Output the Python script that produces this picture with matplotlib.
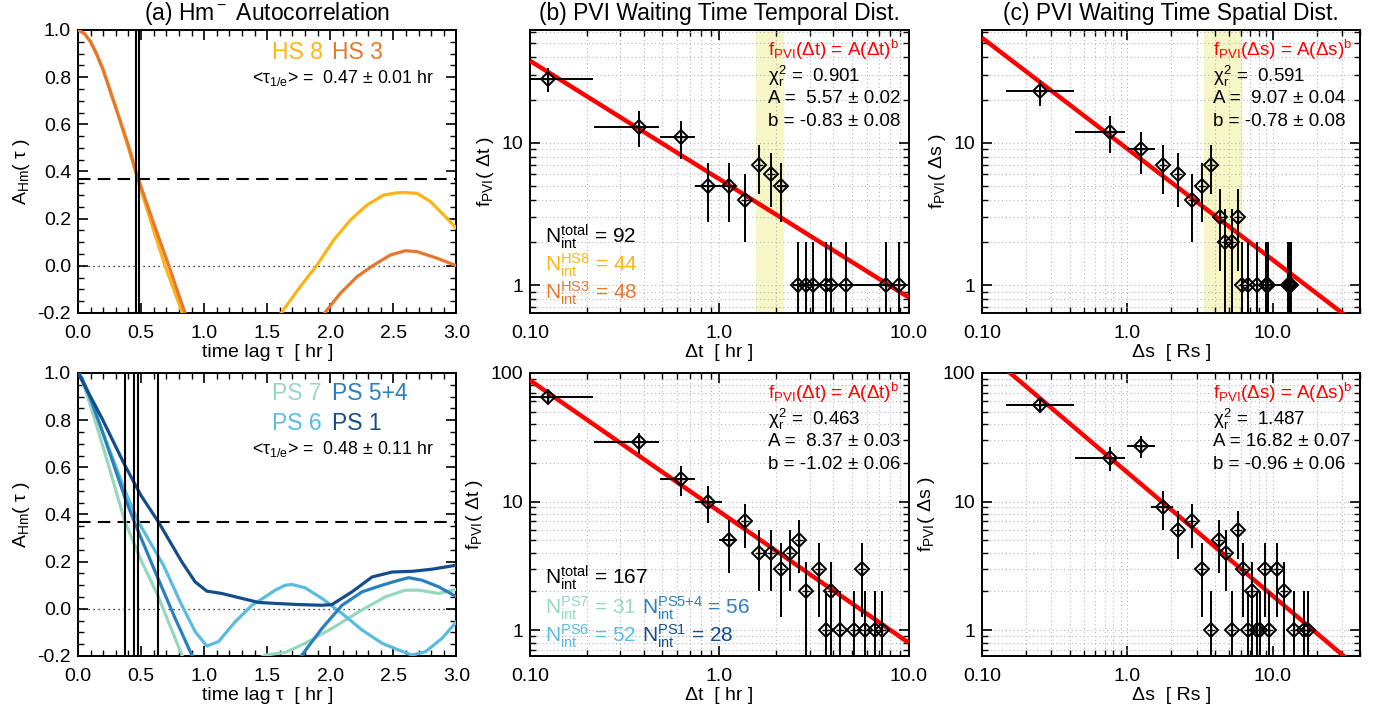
import numpy as np
import matplotlib
matplotlib.use("Agg")
import matplotlib.pyplot as plt
from matplotlib.ticker import FixedLocator, FixedFormatter, MultipleLocator, NullFormatter

plt.rcParams['font.family'] = ['Liberation Sans', 'DejaVu Sans']
plt.rcParams['mathtext.fontset'] = 'custom'
plt.rcParams['mathtext.rm'] = 'Liberation Sans'
plt.rcParams['mathtext.it'] = 'Liberation Sans:italic'
plt.rcParams['mathtext.bf'] = 'Liberation Sans:bold'
plt.rcParams['axes.linewidth'] = 1.4

nan = np.nan

# ---- (a) autocorrelation curves ----
hs8_tau = [0, 0.05, 0.1, 0.15, 0.2, 0.3, 0.4, 0.47, 0.5, 0.6, 0.69, 0.8, 0.9, nan,
           1.5, 1.608, 1.762, 1.894, 2.026, 2.159, 2.291, 2.423, 2.52, 2.582, 2.688, 2.794, 2.9, 3.0]
hs8_acf = [1.0, 0.985, 0.95, 0.895, 0.83, 0.67, 0.50, 0.375, 0.32, 0.15, 0.0, -0.16, -0.32, nan,
           -0.35, -0.202, -0.088, 0.003, 0.109, 0.194, 0.258, 0.3, 0.309, 0.311, 0.307, 0.272, 0.215, 0.159]
hs3_tau = [0, 0.05, 0.1, 0.15, 0.2, 0.3, 0.4, 0.47, 0.5, 0.6, 0.72, 0.8, 0.9, nan,
           1.85, 1.952, 2.079, 2.212, 2.344, 2.476, 2.595, 2.688, 2.847, 3.0]
hs3_acf = [1.0, 0.985, 0.95, 0.895, 0.83, 0.67, 0.51, 0.38, 0.335, 0.18, 0.0, -0.125, -0.28, nan,
           -0.3, -0.202, -0.117, -0.046, 0.003, 0.046, 0.064, 0.06, 0.032, 0.0]
hs_tau_e = [0.463, 0.484]

ps7_tau = [0, 0.03, 0.135, 0.241, 0.373, 0.505, 0.638, 0.823, 0.9, nan,
           1.3, 1.484, 1.643, 1.801, 2.013, 2.225, 2.437, 2.595, 2.701, 2.86, 3.0]
ps7_acf = [1.0, 0.975, 0.80, 0.61, 0.368, 0.20, 0.05, -0.196, -0.3, nan,
           -0.25, -0.196, -0.185, -0.146, -0.083, -0.013, 0.051, 0.079, 0.079, 0.065, 0.083]
ps6_tau = [0, 0.03, 0.1, 0.188, 0.373, 0.479, 0.677, 0.823, 0.929, 1.021, 1.114, 1.246, 1.378,
           1.484, 1.563, 1.643, 1.696, 1.801, 1.934, 2.093, 2.252, 2.41, 2.542, 2.648, 2.754, 2.886, 3.0]
ps6_acf = [1.0, 0.98, 0.89, 0.76, 0.50, 0.368, 0.185, 0.015, -0.097, -0.158, -0.139, -0.055, 0.015,
           0.051, 0.079, 0.1, 0.103, 0.089, 0.044, -0.02, -0.09, -0.146, -0.175, -0.196, -0.182, -0.125, -0.055]
ps54_tau = [0, 0.03, 0.1, 0.188, 0.373, 0.447, 0.624, 0.77, 0.902, 0.95, nan,
            1.7, 1.775, 1.934, 2.093, 2.252, 2.41, 2.542, 2.622, 2.728, 2.86, 3.0]
ps54_acf = [1.0, 0.98, 0.89, 0.76, 0.47, 0.368, 0.142, -0.04, -0.196, -0.26, nan,
            -0.28, -0.196, -0.083, 0.015, 0.072, 0.1, 0.121, 0.132, 0.121, 0.093, 0.051]
ps1_tau = [0, 0.188, 0.373, 0.5, 0.638, 0.823, 0.929, 1.021, 1.14, 1.30, 1.43, 1.56, 1.748, 1.934,
           2.013, 2.172, 2.331, 2.49, 2.65, 2.807, 3.0]
ps1_acf = [1.0, 0.81, 0.607, 0.48, 0.368, 0.199, 0.114, 0.075, 0.065, 0.044, 0.027, 0.023, 0.018, 0.015,
           0.018, 0.072, 0.135, 0.156, 0.159, 0.168, 0.185]
ps_tau_e = [0.373, 0.447, 0.479, 0.637]

# ---- (b) temporal waiting time, HS ----
bt_hs_x = [0.125, 0.378, 0.625, 0.871, 1.13, 1.37, 1.63, 1.87, 2.12,
           2.61, 2.87, 3.13, 3.66, 3.87, 4.65, 7.59, 8.89]
bt_hs_n = [28, 13, 11, 5, 5, 4, 7, 6, 5, 1, 1, 1, 1, 1, 1, 1, 1]
bt_hs_lo = [0.09, 0.218, 0.486, 0.747, 1.0, 1.37, 1.63, 1.87, 2.02,
            2.45, 2.61, 2.87, 3.13, 3.66, 3.87, 4.65, 7.59]
bt_hs_hi = [0.216, 0.483, 0.74, 1.0, 1.23, 1.37, 1.63, 1.87, 2.24,
            2.87, 3.13, 3.66, 3.87, 4.65, 7.59, 8.89, 9.0]
bt_hs_fit = (5.57, -0.83)
bt_hs_band = (1.556, 2.21)

# ---- (b) temporal waiting time, PS ----
bt_ps_x = [0.125, 0.378, 0.625, 0.871, 1.13, 1.37, 1.63, 1.87, 2.12, 2.36, 2.64,
           2.87, 3.36, 3.66, 3.87, 4.36, 5.12, 5.68, 5.90, 6.64, 7.20]
bt_ps_n = [65, 29, 15, 10, 5, 7, 4, 4, 3, 4, 5, 2, 3, 1, 2, 1, 1, 3, 1, 1, 1]
bt_ps_lo = [0.09, 0.218, 0.486, 0.747, 1.0] + bt_ps_x[5:]
bt_ps_hi = [0.216, 0.483, 0.74, 1.03, 1.23] + bt_ps_x[5:]
bt_ps_fit = (8.37, -1.02)

# ---- (c) spatial waiting distance, HS ----
cs_hs_x = [0.249, 0.754, 1.245, 1.75, 2.24, 2.76, 3.27, 3.77, 4.30, 4.71, 5.23, 5.75,
           6.12, 6.73, 7.76, 8.91, 9.24, 12.7, 12.9, 13.1, 13.4]
cs_hs_n = [23, 12, 9, 7, 6, 4, 5, 7, 3, 2, 2, 3, 1, 1, 1, 1, 1, 1, 1, 1, 1]
cs_hs_lo = [0.146, 0.435, 1.0] + cs_hs_x[3:17] + [9.24, 12.9, 13.1, 13.4]
cs_hs_hi = [0.43, 0.955, 1.55] + cs_hs_x[3:]
cs_hs_fit = (9.07, -0.78)
cs_hs_band = (3.36, 6.09)

# ---- (c) spatial waiting distance, PS ----
cs_ps_x = [0.249, 0.754, 1.245, 1.75, 2.24, 2.76, 3.25, 3.77, 4.26, 4.78, 5.24, 5.75,
           6.22, 6.73, 7.21, 7.76, 8.19, 8.77, 9.34, 10.7, 11.9, 13.9, 16.3, 17.4]
cs_ps_n = [56, 22, 27, 9, 6, 7, 3, 1, 5, 4, 1, 6, 3, 1, 2, 1, 1, 3, 1, 3, 2, 1, 1, 1]
cs_ps_lo = [0.146, 0.435, 1.0, 1.45] + cs_ps_x[4:]
cs_ps_hi = [0.43, 0.955, 1.55, 2.05] + cs_ps_x[4:]
cs_ps_fit = (16.82, -0.96)

hs_colors = {'HS 8': '#FDB515', 'HS 3': '#E8772E'}
ps_colors = {'PS 7': '#96D8BF', 'PS 6': '#5ABBE1', 'PS 5+4': '#2A7FBE', 'PS 1': '#154D8B'}

fig = plt.figure(figsize=(13.85, 7.10), dpi=100)
xs = [0.0563, 0.3827, 0.709]
w = 0.2733
ys = [0.5592, 0.0761]
h = 0.3986

TICK = 14
LAB = 14


def style_ticks(ax):
    ax.tick_params(which='both', direction='in', top=True, right=True, labelsize=TICK)
    ax.tick_params(axis='x', which='major', pad=9)
    ax.tick_params(axis='y', which='major', pad=5)
    ax.tick_params(which='major', length=7, width=1.2)
    ax.tick_params(which='minor', length=4, width=1.0)


def acf_panel(ax, curves, tau_e, title=None):
    for tau, acf, c in curves:
        ax.plot(tau, acf, color=c, lw=2.3, zorder=3)
    for t in tau_e:
        ax.axvline(t, color='k', lw=1.5, zorder=4)
    ax.axhline(1 / np.e, color='k', ls=(0, (6, 3.5)), lw=1.5, zorder=2)
    ax.axhline(0, color='k', ls=(0, (1, 3)), lw=0.9, zorder=2)
    ax.set_xlim(0, 3)
    ax.set_ylim(-0.2, 1.0)
    ax.xaxis.set_major_locator(MultipleLocator(0.5))
    ax.xaxis.set_minor_locator(MultipleLocator(0.1))
    ax.yaxis.set_major_locator(MultipleLocator(0.2))
    ax.yaxis.set_minor_locator(MultipleLocator(0.05))
    ax.xaxis.set_major_formatter(matplotlib.ticker.FormatStrFormatter('%.1f'))
    ax.yaxis.set_major_formatter(matplotlib.ticker.FormatStrFormatter('%.1f'))
    style_ticks(ax)
    ax.set_xlabel('time lag τ  [ hr ]', fontsize=LAB, labelpad=1)
    ax.set_ylabel(r'A$_{\rm Hm}$( τ )', fontsize=LAB, labelpad=4)
    if title:
        ax.set_title(title, fontsize=16.5, pad=7)


def pvi_panel(ax, x, n, lo, hi, fit, xmax, ylim, band=None, title=None, var='t', unit='hr'):
    x = np.array(x)
    n = np.array(n, dtype=float)
    err = np.sqrt(n)
    err_lo = np.minimum(err, n - 1e-3)
    if band:
        ax.axvspan(band[0], band[1], color='#F6F6C6', zorder=0, lw=0)
    ax.grid(True, which='both', ls=(0, (1, 2.5)), color='#b5b5b5', lw=0.8)
    ax.set_axisbelow(True)
    xf = np.logspace(-1, np.log10(xmax), 50)
    ax.plot(xf, fit[0] * xf ** fit[1], color='#FF0000', lw=3.2, zorder=3, solid_capstyle='butt')
    ax.errorbar(x, n, yerr=[err_lo, err], xerr=[x - np.array(lo), np.array(hi) - x],
                fmt='none', ecolor='k', elinewidth=1.4, capsize=0, zorder=4)
    ax.plot(x, n, 'D', mfc='none', mec='k', ms=7, mew=1.4, zorder=5)
    ax.plot(x, n, '+', color='k', ms=6, mew=1.0, zorder=5)
    ax.set_xscale('log')
    ax.set_yscale('log')
    ax.set_xlim(0.1, xmax)
    ax.set_ylim(*ylim)
    xt = [t for t in [0.1, 1.0, 10.0] if t <= xmax]
    ax.xaxis.set_major_locator(FixedLocator(xt))
    ax.xaxis.set_major_formatter(FixedFormatter(['0.10', '1.0', '10.0'][:len(xt)]))
    ax.xaxis.set_minor_formatter(NullFormatter())
    yt = [t for t in [1, 10, 100] if ylim[0] <= t <= ylim[1] * 1.01]
    ax.yaxis.set_major_locator(FixedLocator(yt))
    ax.yaxis.set_major_formatter(FixedFormatter([str(t) for t in yt]))
    ax.yaxis.set_minor_formatter(NullFormatter())
    style_ticks(ax)
    ax.set_xlabel('Δ%s  [ %s ]' % (var, unit), fontsize=LAB, labelpad=1)
    ax.set_ylabel(r'f$_{\rm PVI}$( Δ%s )' % var, fontsize=LAB, labelpad=4)
    if title:
        ax.set_title(title, fontsize=16.5, pad=7)


def fit_text(ax, x0, var, chi, fit, err):
    kw = dict(transform=ax.transAxes, ha='left', va='center')
    ax.text(x0, 0.93, r'f$_{\rm PVI}$(Δ%s) = A(Δ%s)$^{\rm b}$' % (var, var), color='#FF0000', fontsize=13.6, **kw)
    ax.text(x0, 0.836, r'χ$^{\rm 2}_{\rm r}$ =  %s' % chi, fontsize=13.5, **kw)
    ax.text(x0, 0.757, 'A = %s%.2f ± %.2f' % (' ' if fit[0] < 10 else '', fit[0], err[0]), fontsize=13.5, **kw)
    ax.text(x0, 0.677, 'b = %.2f ± %.2f' % (fit[1], err[1]), fontsize=13.5, **kw)


# (a) top: HS
ax = fig.add_axes([xs[0], ys[0], w, h])
acf_panel(ax, [(hs8_tau, hs8_acf, hs_colors['HS 8']), (hs3_tau, hs3_acf, hs_colors['HS 3'])],
          hs_tau_e, title=r'(a) Hm$^{\rm -}$ Autocorrelation')
ax.text(0.513, 0.922, 'HS 8', color=hs_colors['HS 8'], fontsize=16.5, transform=ax.transAxes, va='center')
ax.text(0.672, 0.922, 'HS 3', color=hs_colors['HS 3'], fontsize=16.5, transform=ax.transAxes, va='center')
ax.text(0.46, 0.83, r'<τ$_{\rm 1/e}$> =  0.47 ± 0.01 hr', fontsize=12.8, transform=ax.transAxes, va='center')

# (a) bottom: PS
ax = fig.add_axes([xs[0], ys[1], w, h])
acf_panel(ax, [(ps7_tau, ps7_acf, ps_colors['PS 7']), (ps6_tau, ps6_acf, ps_colors['PS 6']),
               (ps54_tau, ps54_acf, ps_colors['PS 5+4']), (ps1_tau, ps1_acf, ps_colors['PS 1'])],
          ps_tau_e)
ax.text(0.513, 0.926, 'PS 7', color=ps_colors['PS 7'], fontsize=16.5, transform=ax.transAxes, va='center')
ax.text(0.672, 0.926, 'PS 5+4', color=ps_colors['PS 5+4'], fontsize=16.5, transform=ax.transAxes, va='center')
ax.text(0.513, 0.82, 'PS 6', color=ps_colors['PS 6'], fontsize=16.5, transform=ax.transAxes, va='center')
ax.text(0.672, 0.82, 'PS 1', color=ps_colors['PS 1'], fontsize=16.5, transform=ax.transAxes, va='center')
ax.text(0.46, 0.732, r'<τ$_{\rm 1/e}$> =  0.48 ± 0.11 hr', fontsize=12.8, transform=ax.transAxes, va='center')

# (b) top
ax = fig.add_axes([xs[1], ys[0], w, h])
pvi_panel(ax, bt_hs_x, bt_hs_n, bt_hs_lo, bt_hs_hi, bt_hs_fit, 10.0, (0.64, 62), band=bt_hs_band,
          title='(b) PVI Waiting Time Temporal Dist.')
fit_text(ax, 0.628, 't', '0.901', bt_hs_fit, (0.02, 0.08))
kw = dict(transform=ax.transAxes, ha='left', va='center', fontsize=15)
ax.text(0.04, 0.269, r'N$^{\rm total}_{\rm int}$ = 92', **kw)
ax.text(0.04, 0.170, r'N$^{\rm HS8}_{\rm int}$ = 44', color=hs_colors['HS 8'], **kw)
ax.text(0.04, 0.071, r'N$^{\rm HS3}_{\rm int}$ = 48', color=hs_colors['HS 3'], **kw)

# (b) bottom
ax = fig.add_axes([xs[1], ys[1], w, h])
pvi_panel(ax, bt_ps_x, bt_ps_n, bt_ps_lo, bt_ps_hi, bt_ps_fit, 10.0, (0.63, 100))
fit_text(ax, 0.628, 't', '0.463', bt_ps_fit, (0.03, 0.06))
kw = dict(transform=ax.transAxes, ha='left', va='center', fontsize=15)
ax.text(0.04, 0.275, r'N$^{\rm total}_{\rm int}$ = 167', **kw)
ax.text(0.04, 0.169, r'N$^{\rm PS7}_{\rm int}$ = 31', color=ps_colors['PS 7'], **kw)
ax.text(0.04, 0.070, r'N$^{\rm PS6}_{\rm int}$ = 52', color=ps_colors['PS 6'], **kw)
ax.text(0.295, 0.169, r'N$^{\rm PS5{+}4}_{\rm int}$ = 56', color=ps_colors['PS 5+4'], **kw)
ax.text(0.295, 0.070, r'N$^{\rm PS1}_{\rm int}$ = 28', color=ps_colors['PS 1'], **kw)

# (c) top
ax = fig.add_axes([xs[2], ys[0], w, h])
pvi_panel(ax, cs_hs_x, cs_hs_n, cs_hs_lo, cs_hs_hi, cs_hs_fit, 40.0, (0.64, 62), band=cs_hs_band,
          title='(c) PVI Waiting Time Spatial Dist.', var='s', unit='Rs')
fit_text(ax, 0.61, 's', '0.591', cs_hs_fit, (0.04, 0.08))

# (c) bottom
ax = fig.add_axes([xs[2], ys[1], w, h])
pvi_panel(ax, cs_ps_x, cs_ps_n, cs_ps_lo, cs_ps_hi, cs_ps_fit, 40.0, (0.63, 100), var='s', unit='Rs')
fit_text(ax, 0.61, 's', '1.487', cs_ps_fit, (0.07, 0.06))

fig.savefig('out.png', dpi=100)
